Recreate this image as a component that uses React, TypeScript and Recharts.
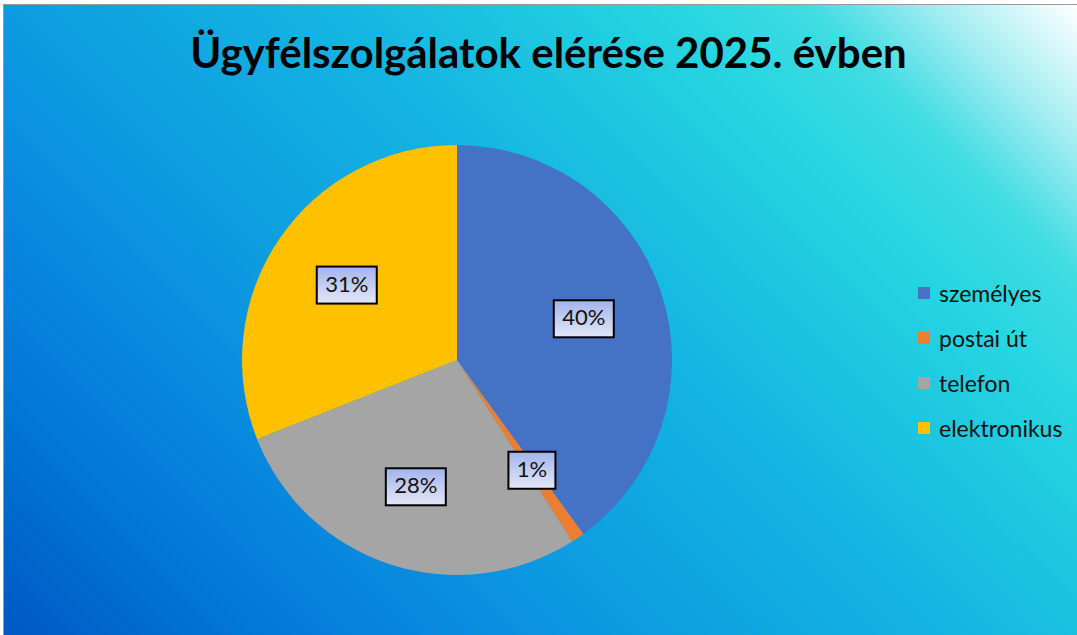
import { PieChart, Pie, Cell, Legend } from "recharts";

const categories = ["személyes", "postai út", "telefon", "elektronikus"];
const shares = [40, 1, 28, 31];
const colors = ["#4472C4", "#ED7D31", "#A5A5A5", "#FFC000"];

const data = categories.map((name, i) => ({ name, value: shares[i] }));

const RAD = Math.PI / 180;
const FONT = "Lato, 'Open Sans', sans-serif";

function BoxLabel(props: any) {
  const { cx, cy, midAngle, outerRadius, percent } = props;
  const r = outerRadius * 0.62;
  const x = cx + r * Math.cos(-midAngle * RAD);
  const y = cy + r * Math.sin(-midAngle * RAD);
  const txt = `${Math.round(percent * 100)}%`;
  const w = txt.length * 13 + 21;
  const h = 37;
  return (
    <g>
      <rect
        x={x - w / 2}
        y={y - h / 2}
        width={w}
        height={h}
        fill="url(#lblGrad)"
        stroke="#000"
        strokeWidth={2}
      />
      <text
        x={x}
        y={y + 1}
        textAnchor="middle"
        dominantBaseline="middle"
        fontSize={22}
        fill="#111"
        fontFamily={FONT}
      >
        {txt}
      </text>
    </g>
  );
}

function LegendBox() {
  return (
    <div style={{ fontFamily: FONT, fontSize: 23, color: "#111" }}>
      {categories.map((name, i) => (
        <div key={name} style={{ display: "flex", alignItems: "center", height: 45 }}>
          <span
            style={{ width: 12, height: 12, background: colors[i], display: "inline-block", marginRight: 9 }}
          />
          <span>{name}</span>
        </div>
      ))}
    </div>
  );
}

export default function App() {
  return (
    <div
      style={{
        position: "fixed",
        left: 0,
        top: 0,
        width: 1077,
        height: 635,
        background: "#fff",
        overflow: "hidden",
      }}
    >
      <div
        style={{
          position: "absolute",
          left: 3,
          top: 4,
          width: 1074,
          height: 631,
          borderTop: "1px solid #9a9a9a",
          borderLeft: "1px solid #9a9a9a",
          background:
            "linear-gradient(45deg, #0058c4 0%, #0278d8 15%, #0a90e0 30%, #0ea0e0 40%, #14b4e2 55%, #1cc4e0 65%, #26d6e0 76%, #40dce2 84%, #a8eef2 92%, #ffffff 100%)",
        }}
      />
      <div
        style={{
          position: "absolute",
          left: 0,
          top: 27,
          width: 1097,
          textAlign: "center",
          fontFamily: FONT,
          fontWeight: 700,
          fontSize: 42,
          color: "#000",
        }}
      >
        Ügyfélszolgálatok elérése 2025. évben
      </div>
      <div style={{ position: "absolute", left: 0, top: 0 }}>
        <PieChart width={1077} height={635} margin={{ top: 0, right: 0, bottom: 0, left: 0 }}>
          <defs>
            <linearGradient id="lblGrad" x1="0" y1="0" x2="0" y2="1">
              <stop offset="0%" stopColor="#a3b3ec" />
              <stop offset="100%" stopColor="#e3e8f8" />
            </linearGradient>
          </defs>
          <Pie
            data={data}
            dataKey="value"
            nameKey="name"
            cx={457}
            cy={360}
            outerRadius={215}
            startAngle={90}
            endAngle={-270}
            stroke="none"
            label={BoxLabel}
            labelLine={false}
            isAnimationActive={false}
          >
            {data.map((d, i) => (
              <Cell key={d.name} fill={colors[i]} />
            ))}
          </Pie>
          <Legend
            layout="vertical"
            align="right"
            verticalAlign="top"
            content={LegendBox}
            wrapperStyle={{ left: 918, top: 270, width: 160 }}
          />
        </PieChart>
      </div>
    </div>
  );
}
